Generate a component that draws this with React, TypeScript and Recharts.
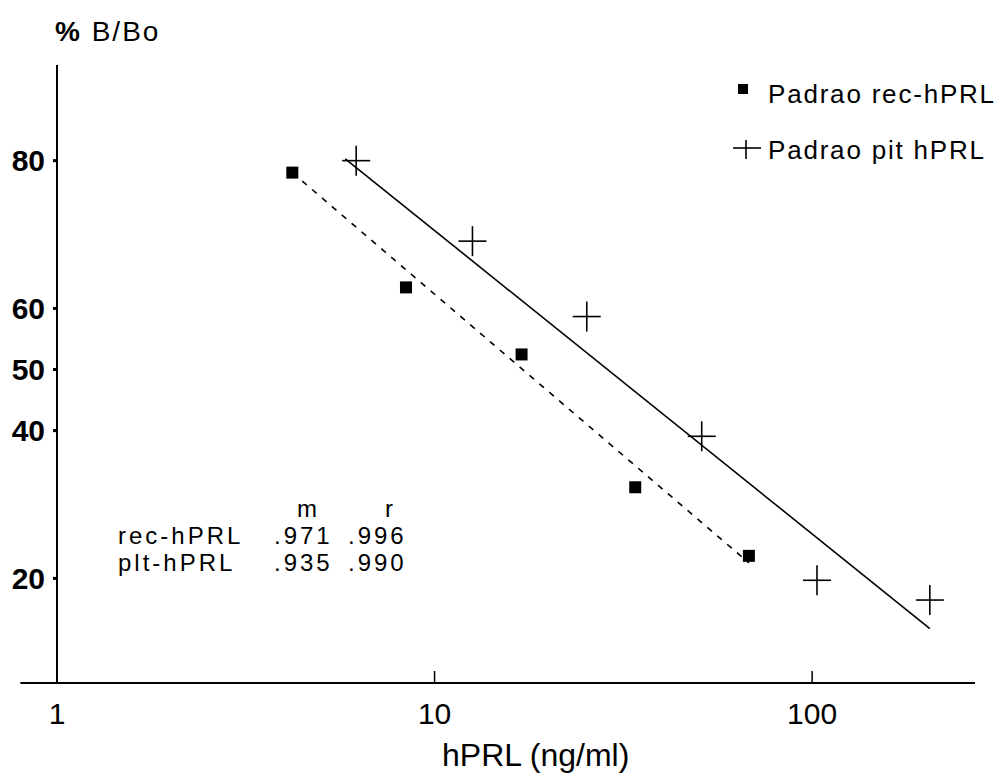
import { ComposedChart, XAxis, YAxis, Scatter, Line, ReferenceLine } from "recharts";

// dose (ng/ml) and %B/Bo
const recDose = [4.2, 8.4, 17, 34, 68];
const recBB = [78.7, 63.3, 52.5, 31.4, 22.5];
const pitDose = [6.2, 12.6, 25.3, 51, 103, 205];
const pitBB = [80.0, 70.1, 58.7, 39.1, 19.8, 17.8];

// regression line end points
const recFitDose = [4.2, 68];
const recFitBB = [78.7, 21.7];
const pitFitDose = [5.8, 205];
const pitFitBB = [80.2, 15.2];

const xTicks = [1, 10, 100];
const yTickLabels = [20, 40, 50, 60, 80];
const yRange = [11.1, 88.3];

const statNames = ["rec-hPRL", "plt-hPRL"];
const statM = [".971", ".935"];
const statR = [".996", ".990"];

const logit = (p: number) => Math.log(p / (100 - p));
const unlogit = (v: number) => 100 / (1 + Math.exp(-v));
const toPoints = (xs: number[], ps: number[]) => xs.map((x, i) => ({ x, y: logit(ps[i]) }));

const recPoints = toPoints(recDose, recBB);
const pitPoints = toPoints(pitDose, pitBB);
const recFit = toPoints(recFitDose, recFitBB);
const pitFit = toPoints(pitFitDose, pitFitBB);
const yDomain = [logit(yRange[0]), logit(yRange[1])];

const FONT = "'Liberation Sans', Arial, Helvetica, sans-serif";

const SquareDot = (props: any) => {
  const { cx, cy } = props;
  return <rect x={cx - 6} y={cy - 6} width={12} height={12} fill="#000" />;
};

const PlusDot = (props: any) => {
  const { cx, cy } = props;
  return (
    <g stroke="#000" strokeWidth={1.6}>
      <line x1={cx - 14} y1={cy} x2={cx + 14} y2={cy} />
      <line x1={cx} y1={cy - 15} x2={cx} y2={cy + 15} />
    </g>
  );
};

const txt = (extra: any) => ({
  position: "absolute" as const,
  lineHeight: 1,
  whiteSpace: "nowrap" as const,
  color: "#000",
  ...extra,
});

export default function App() {
  return (
    <div style={{ position: "absolute", left: 0, top: 0, width: 1003, height: 782, background: "#fff", fontFamily: FONT }}>
      <ComposedChart width={1003} height={782} margin={{ top: 65, right: 28, bottom: 0, left: 0 }}>
        <XAxis
          dataKey="x"
          type="number"
          scale="log"
          domain={[1, 270]}
          ticks={xTicks}
          allowDataOverflow
          height={99}
          tickSize={-12}
          tickMargin={32}
          tick={{ fontSize: 30, fill: "#000", fontFamily: FONT }}
          axisLine={{ stroke: "#000", strokeWidth: 2 }}
          tickLine={{ stroke: "#000", strokeWidth: 1.5 }}
        />
        <YAxis
          dataKey="y"
          type="number"
          domain={yDomain}
          ticks={yTickLabels.map(logit)}
          tickFormatter={(v: number) => String(Math.round(unlogit(v)))}
          allowDataOverflow
          width={57}
          tickSize={4}
          tickMargin={8}
          tick={{ fontSize: 30, fontWeight: "bold", fill: "#000", fontFamily: FONT }}
          axisLine={{ stroke: "#000", strokeWidth: 2 }}
          tickLine={{ stroke: "#000", strokeWidth: 3 }}
        />
        <ReferenceLine
          segment={[{ x: 0.8, y: yDomain[0] }, { x: 1, y: yDomain[0] }]}
          ifOverflow="visible"
          stroke="#000"
          strokeWidth={2}
        />
        <Line data={recFit} dataKey="y" stroke="#000" strokeWidth={1.6} strokeDasharray="6 7" dot={false} isAnimationActive={false} />
        <Line data={pitFit} dataKey="y" stroke="#000" strokeWidth={1.6} dot={false} isAnimationActive={false} />
        <Scatter data={recPoints} dataKey="y" shape={SquareDot} isAnimationActive={false} />
        <Scatter data={pitPoints} dataKey="y" shape={PlusDot} isAnimationActive={false} />
      </ComposedChart>

      <div style={txt({ left: 55, top: 18, fontSize: 28, letterSpacing: 2 })}>
        <b>%</b> B/Bo
      </div>

      <div style={txt({ left: 738, top: 84, width: 10, height: 10, background: "#000" })} />
      <div style={txt({ left: 768, top: 81, fontSize: 26, letterSpacing: 1.8 })}>Padrao rec-hPRL</div>
      <svg style={{ position: "absolute", left: 732, top: 140 }} width={30} height={20}>
        <line x1={1} y1={8} x2={29} y2={8} stroke="#000" strokeWidth={1.6} />
        <line x1={14} y1={0} x2={14} y2={19} stroke="#000" strokeWidth={1.6} />
      </svg>
      <div style={txt({ left: 768, top: 137, fontSize: 26, letterSpacing: 1.8 })}>Padrao pit hPRL</div>

      <div style={txt({ left: 297, top: 497, fontSize: 24 })}>m</div>
      <div style={txt({ left: 385, top: 497, fontSize: 24 })}>r</div>
      {statNames.map((n, i) => (
        <div key={n}>
          <div style={txt({ left: 118, top: 524 + i * 27, fontSize: 24, letterSpacing: 3 })}>{n}</div>
          <div style={txt({ left: 274, top: 524 + i * 27, fontSize: 24, letterSpacing: 3 })}>{statM[i]}</div>
          <div style={txt({ left: 348, top: 524 + i * 27, fontSize: 24, letterSpacing: 3 })}>{statR[i]}</div>
        </div>
      ))}

      <div style={txt({ left: 442, top: 739, fontSize: 32 })}>hPRL (ng/ml)</div>
    </div>
  );
}
